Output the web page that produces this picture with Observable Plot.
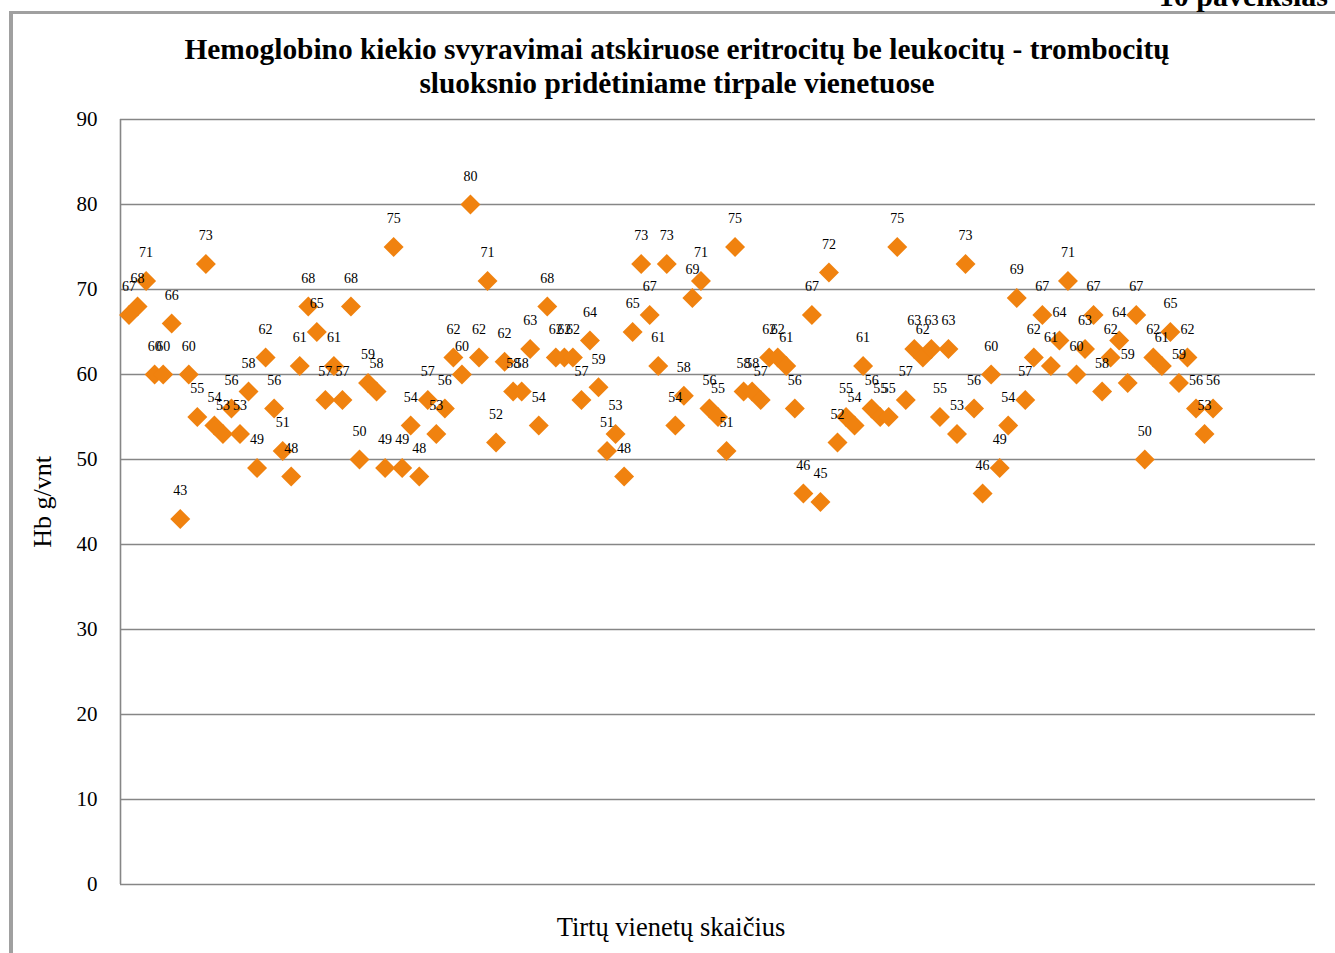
<!DOCTYPE html>
<html>
<head>
<meta charset="utf-8">
<script src="https://cdn.jsdelivr.net/npm/d3@7"></script>
<script src="https://cdn.jsdelivr.net/npm/@observablehq/plot@0.6"></script>
<style>
  html, body { margin: 0; padding: 0; background: #fff; }
  #wrap { position: relative; width: 1335px; height: 953px; overflow: hidden; font-family: "Liberation Serif", "Times New Roman", serif; }
  #frame { position: absolute; left: 9px; top: 11px; right: -10px; bottom: -10px; border-top: 3px solid #a0a0a0; border-left: 4px solid #a0a0a0; pointer-events: none; }
  #fig { position: absolute; right: 7px; top: -19px; font-size: 30px; font-weight: bold; line-height: 1; }
  #title { height: 100px; box-sizing: border-box; padding-top: 32px; padding-left: 19px; text-align: center; font-size: 29.4px; font-weight: bold; line-height: 34px; }
  svg { display: block; }
</style>
</head>
<body>
<div id="wrap">
  <div id="frame"></div>
  <div id="fig">10 paveikslas</div>
  <div id="title">Hemoglobino kiekio svyravimai atskiruose eritrocitų be leukocitų - trombocitų<br>sluoksnio pridėtiniame tirpale vienetuose</div>
  <div id="chart"></div>
</div>
<script>
// Hb values per tested unit, in order (unit 1 .. 128)
const values = [
  67, 68, 71, 60, 60, 66, 43, 60, 55, 73,
  54, 53, 56, 53, 58, 49, 62, 56, 51, 48,
  61, 68, 65, 57, 61, 57, 68, 50, 59, 58,
  49, 75, 49, 54, 48, 57, 53, 56, 62, 60,
  80, 62, 71, 52, 61.5, 58, 58, 63, 54, 68,
  62, 62, 62, 57, 64, 58.5, 51, 53, 48, 65,
  73, 67, 61, 73, 54, 57.5, 69, 71, 56, 55,
  51, 75, 58, 58, 57, 62, 62, 61, 56, 46,
  67, 45, 72, 52, 55, 54, 61, 56, 55, 55,
  75, 57, 63, 62, 63, 55, 63, 53, 73, 56,
  46, 60, 49, 54, 69, 57, 62, 67, 61, 64,
  71, 60, 63, 67, 58, 62, 64, 59, 67, 50,
  62, 61, 65, 59, 62, 56, 53, 56
];
const yTicks = [0, 10, 20, 30, 40, 50, 60, 70, 80, 90];
const yLabel = "Hb g/vnt";
const xLabel = "Tirtų vienetų skaičius";

const data = values.map((v, i) => ({unit: i + 1, hb: v}));
const fmt = d3.format(".0f");
const serif = "Liberation Serif, Times New Roman, serif";

const chart = Plot.plot({
  width: 1335,
  height: 853,
  marginTop: 19,
  marginBottom: 69,
  marginLeft: 120,
  marginRight: 20,
  style: {fontFamily: serif, background: "transparent", overflow: "visible"},
  x: {domain: [0, 140], axis: null},
  y: {domain: [0, 90], axis: null},
  marks: [
    Plot.gridY(yTicks, {stroke: "#868686", strokeOpacity: 1, strokeWidth: 1.6}),
    Plot.ruleX([0], {y1: 0, y2: 90, stroke: "#868686", strokeWidth: 1.6}),
    Plot.axisY(yTicks, {tickSize: 0, tickPadding: 23, fontSize: 21, tickFormat: d3.format("d"), label: null, fill: "#000"}),
    Plot.text([yLabel], {frameAnchor: "left", textAnchor: "middle", dx: -78, rotate: -90, fontSize: 26, fill: "#000"}),
    Plot.text([xLabel], {frameAnchor: "bottom", dx: -47, dy: 51, fontSize: 26.5, fill: "#000"}),
    Plot.dot(data, {x: "unit", y: "hb", symbol: "diamond2", r: 9, fill: "#F0820F", stroke: "none"}),
    Plot.text(data, {x: "unit", y: "hb", text: d => fmt(d.hb), dy: -28, fontSize: 14, fill: "#000"})
  ]
});
document.getElementById("chart").appendChild(chart);
</script>
</body>
</html>
